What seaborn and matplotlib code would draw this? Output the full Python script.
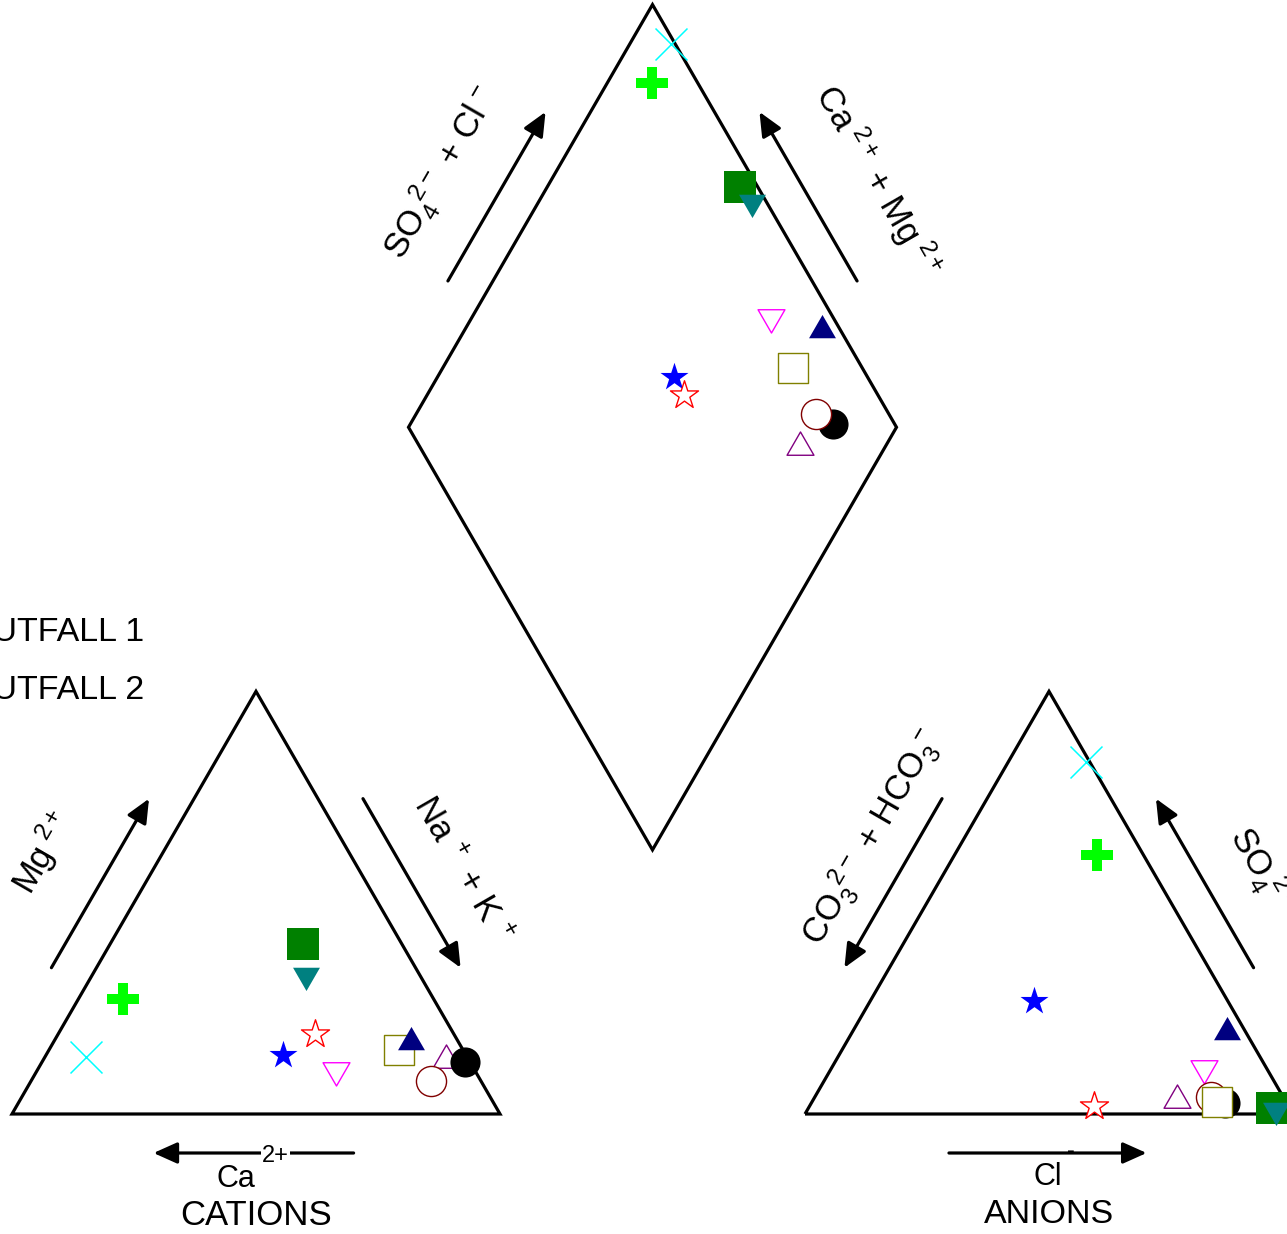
import numpy as np
import pandas as pd
import matplotlib
matplotlib.use("Agg")
import matplotlib.pyplot as plt
from matplotlib.patches import Polygon, FancyArrowPatch
from matplotlib.path import Path
from matplotlib.transforms import Affine2D
import seaborn as sns

# ---------------------------------------------------------------
# Major-ion composition of the samples (meq %)
# ---------------------------------------------------------------
samples = ["W1", "W2", "W3", "W4", "W5", "W6",
           "W7", "W8", "W9", "W10", "W11", "W12"]

# cations
ca = [78.1, 63.6, 20.2, 23.3, 28.4, 9.6, 13.1, 37.5, 28.4, 10.2, 1.1, 4.7]
mg = [13.5, 27.3, 40.3, 32.9, 10.4, 17.1, 15.2, 14.0, 19.0, 7.8, 12.3, 12.8]
nak = [8.4, 9.1, 39.5, 43.8, 61.2, 73.3, 71.7, 48.5, 52.6, 82.0, 86.6, 82.5]

# anions
cl = [16.0, 29.1, 95.0, 96.0, 76.3, 76.8, 83.0, 33.5, 58.3, 81.2, 84.8, 74.5]
so4 = [83.2, 61.4, 1.4, 1.0, 10.9, 19.4, 2.8, 26.8, 1.9, 4.0, 2.6, 3.3]
hco3 = [0.8, 9.5, 3.6, 3.0, 12.8, 3.8, 14.2, 39.7, 39.8, 14.8, 12.6, 22.2]

legend_labels = ["OUTFALL 1", "OUTFALL 2"]

# symbol for each sample
tri_up = Path.unit_regular_polygon(3)
tri_down = Affine2D().rotate_deg(180).transform_path(tri_up)
markers = ["x", "P", "s", tri_down, tri_down, tri_up,
           "s", "*", "*", "o", "o", tri_up]
colors = ["#00FFFF", "#00FF00", "#008000", "#008080", "#FF00FF", "#000080",
          "#808000", "#0000FF", "#FF0000", "#800000", "#000000", "#800080"]
fills = ["line", "solid", "solid", "solid", "open", "solid",
         "open", "solid", "open", "open", "solid", "open"]
sizes = [530, 500, 500, 500, 500, 500, 470, 450, 450, 470, 470, 500]
draw_order = [0, 1, 2, 3, 4, 7, 8, 11, 10, 9, 6, 5]

# ---------------------------------------------------------------
# Piper geometry (figure pixels, y upward)
# ---------------------------------------------------------------
SIDE = 488.0
H = SIDE * np.sqrt(3) / 2
GAP = 305.0
X0, Y0 = 12.0, 120.0
XA = X0 + SIDE + GAP
DB = np.array([X0 + SIDE + GAP / 2, Y0 + GAP / 2 * np.sqrt(3)])

cat_left, cat_right, cat_top = (X0, Y0), (X0 + SIDE, Y0), (X0 + SIDE / 2, Y0 + H)
an_left, an_right, an_top = (XA, Y0), (XA + SIDE, Y0), (XA + SIDE / 2, Y0 + H)
d_bottom = tuple(DB)
d_right = (DB[0] + SIDE / 2, DB[1] + H)
d_top = (DB[0], DB[1] + 2 * H)
d_left = (DB[0] - SIDE / 2, DB[1] + H)


def ternary_xy(x_left, right, top):
    r = np.asarray(right) / 100.0
    t = np.asarray(top) / 100.0
    return x_left + SIDE * (r + t / 2), Y0 + H * t


def diamond_xy(camg, so4cl):
    c = np.asarray(camg) / 100.0
    s = np.asarray(so4cl) / 100.0
    return DB[0] + SIDE / 2 * (s - c), DB[1] + H * (s + c)


def along(p0, p1, f, off):
    """Point at fraction f of edge p0->p1, shifted outward by off."""
    p0, p1 = np.asarray(p0, float), np.asarray(p1, float)
    d = p1 - p0
    u = d / np.hypot(*d)
    n = np.array([u[1], -u[0]])
    return p0 + d * f + n * off


cx, cy = ternary_xy(X0, nak, mg)
ax_, ay_ = ternary_xy(XA, cl, so4)
dx, dy = diamond_xy(np.add(ca, mg), np.add(cl, so4))

df = pd.concat([
    pd.DataFrame({"sample": samples, "x": cx, "y": cy, "panel": "cations"}),
    pd.DataFrame({"sample": samples, "x": ax_, "y": ay_, "panel": "anions"}),
    pd.DataFrame({"sample": samples, "x": dx, "y": dy, "panel": "diamond"}),
], ignore_index=True)

# ---------------------------------------------------------------
# Figure
# ---------------------------------------------------------------
sns.set_theme(style="white")
plt.rcParams["font.family"] = ["Liberation Sans", "DejaVu Sans"]
plt.rcParams["text.color"] = "black"
plt.rcParams["mathtext.fontset"] = "custom"
plt.rcParams["mathtext.rm"] = "Liberation Sans"
plt.rcParams["mathtext.it"] = "Liberation Sans:italic"
plt.rcParams["mathtext.bf"] = "Liberation Sans:bold"

fig = plt.figure(figsize=(12.87, 12.34), dpi=100)
ax = fig.add_axes([0, 0, 1, 1])
ax.set_xlim(0, 1287)
ax.set_ylim(0, 1234)
ax.axis("off")

LW = 2.3
for verts in ([cat_left, cat_right, cat_top],
              [an_left, an_right, an_top],
              [d_bottom, d_right, d_top, d_left]):
    ax.add_patch(Polygon(verts, closed=True, fill=False, edgecolor="black",
                         linewidth=LW, joinstyle="miter", zorder=1))


def arrow(p0, p1, f_tail, f_tip, off):
    a = along(p0, p1, f_tail, off)
    b = along(p0, p1, f_tip, off)
    ax.add_patch(FancyArrowPatch(a, b, arrowstyle="-|>,head_length=1.45,head_width=0.65",
                                 mutation_scale=10, linewidth=LW, color="black",
                                 shrinkA=0, shrinkB=0, zorder=1))


OFF = 39
# cation triangle
arrow(cat_top, cat_left, 0.70, 0.30, OFF)      # Mg
arrow(cat_right, cat_top, 0.70, 0.30, OFF)     # Na + K
arrow(cat_left, cat_right, 0.70, 0.29, OFF)    # Ca
# anion triangle
arrow(an_top, an_left, 0.30, 0.70, OFF)        # CO3 + HCO3
arrow(an_right, an_top, 0.30, 0.70, OFF)       # SO4
arrow(an_left, an_right, 0.295, 0.70, OFF)     # Cl
# diamond
arrow(d_top, d_left, 0.70, 0.30, OFF)          # SO4 + Cl
arrow(d_right, d_top, 0.30, 0.70, OFF)         # Ca + Mg

FS = 25
side_labels = [
    (r"Mg$^{\,\,2+}$", cat_top, cat_left, 0.505, 104, 60),
    (r"Na$^{\,\,+}$ + K$^{\,\,+}$", cat_right, cat_top, 0.472, 89, -60),
    (r"SO$_4^{\,\,\,2-}$ + Cl$^{\,-}$", d_top, d_left, 0.515, 99, 60),
    (r"Ca$^{\,\,2+}$ + Mg$^{\,\,2+}$", d_right, d_top, 0.455, 107, -60),
    (r"CO$_3^{\,\,\,2-}$ + HCO$_3^{\,\,-}$", an_top, an_left, 0.44, 81, 60),
    (r"SO$_4^{\,\,\,2-}$", an_right, an_top, 0.465, 95, -60),
]
for txt, p0, p1, f, off, rot in side_labels:
    px, py = along(p0, p1, f, off)
    ax.text(px, py, txt, rotation=rot, ha="center", va="center",
            fontsize=FS, color="black")

# bottom axis labels
mid_c = X0 + SIDE / 2
mid_a = XA + SIDE / 2
ax.text(mid_c - 1, Y0 - 73, "Ca", ha="right", va="baseline", fontsize=22)
ax.text(mid_c + 6, Y0 - 48, "2+", ha="left", va="baseline", fontsize=17,
        bbox=dict(facecolor="white", edgecolor="none", pad=1.0), zorder=2)
ax.text(mid_c, Y0 - 111, "CATIONS", ha="center", va="baseline", fontsize=25)
ax.text(mid_a - 1, Y0 - 71, "Cl", ha="center", va="baseline", fontsize=22)
ax.text(mid_a + 18, Y0 - 42.5, "-", ha="left", va="baseline", fontsize=17, zorder=2)
ax.text(mid_a, Y0 - 109, "ANIONS", ha="center", va="baseline", fontsize=24.5)

# legend entries
for k, lab in enumerate(legend_labels):
    ax.text(144, 593 - 58 * k, lab, ha="right", va="baseline", fontsize=24.5)

# sample symbols
for k, i in enumerate(draw_order):
    sub = df[df["sample"] == samples[i]]
    kw = dict(marker=markers[i], s=sizes[i], color=colors[i], zorder=3 + k)
    if fills[i] == "open":
        kw.update(facecolor="white", edgecolor=colors[i], linewidth=1.0)
    elif fills[i] == "line":
        kw.update(linewidth=1.1)
    else:
        kw.update(edgecolor=colors[i], linewidth=0)
    sns.scatterplot(data=sub, x="x", y="y", ax=ax, legend=False, **kw)

ax.set_xlim(0, 1287)
ax.set_ylim(0, 1234)
ax.axis("off")
fig.savefig("out.png", dpi=100)
